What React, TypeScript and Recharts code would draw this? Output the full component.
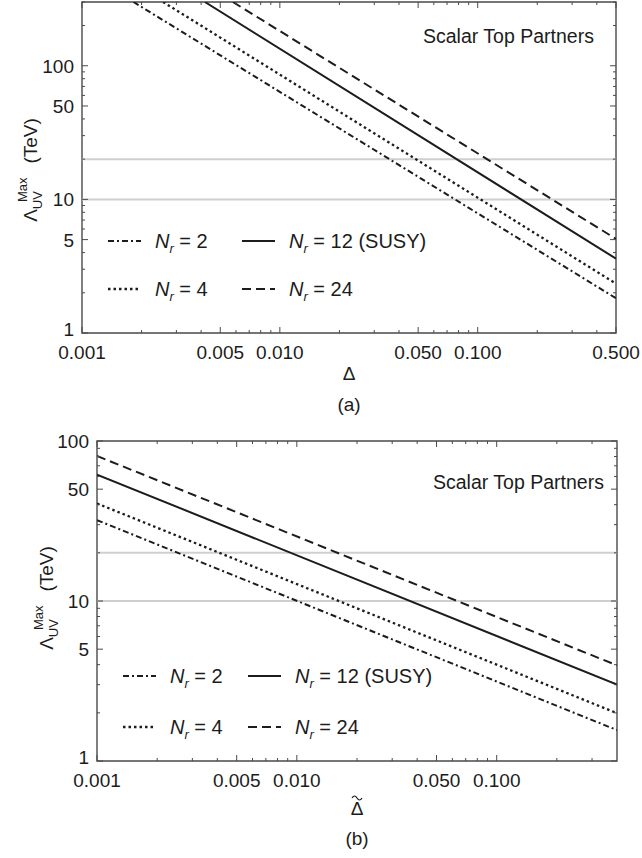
import React from "react";
import {
  LineChart, Line, XAxis, YAxis, ReferenceLine, ReferenceArea,
} from "recharts";

// panel (a): Lambda_UV^Max vs Delta, lines enter at the top edge (300 TeV)
const deltaA_n2 = [0.00182, 0.5];
const lamA_n2 = [300, 1.82];
const deltaA_n4 = [0.00257, 0.5];
const lamA_n4 = [300, 2.34];
const deltaA_n12 = [0.00418, 0.5];
const lamA_n12 = [300, 3.6];
const deltaA_n24 = [0.00579, 0.5];
const lamA_n24 = [300, 5.06];

// panel (b): Lambda_UV^Max vs Delta-tilde
const deltaB = [0.001, 0.4];
const lamB_n2 = [32.0, 1.56];
const lamB_n4 = [40.7, 1.99];
const lamB_n12 = [61.7, 3.0];
const lamB_n24 = [80.6, 3.96];

// ticks
const xMajorA = [0.001, 0.005, 0.01, 0.05, 0.1, 0.5];
const xLabelsA = ["0.001", "0.005", "0.010", "0.050", "0.100", "0.500"];
const xMajorB = [0.001, 0.005, 0.01, 0.05, 0.1];
const xLabelsB = ["0.001", "0.005", "0.010", "0.050", "0.100"];
const xMinor = [0.002, 0.003, 0.004, 0.006, 0.007, 0.008, 0.009,
  0.02, 0.03, 0.04, 0.06, 0.07, 0.08, 0.09, 0.2, 0.3, 0.4];
const yMajor = [1, 5, 10, 50, 100];
const yLabels = ["1", "5", "10", "50", "100"];
const yMinor = [2, 3, 4, 6, 7, 8, 9, 20, 30, 40, 60, 70, 80, 90, 200, 300];
const gridValues = [10, 20];

const DASH_N2 = "6 3 2 3";
const DASH_N4 = "2.5 3";
const DASH_N24 = "9 5";

const legendItems = [
  { label: "2", dash: DASH_N2, col: 0, row: 0 },
  { label: "12 (SUSY)", dash: "", col: 1, row: 0 },
  { label: "4", dash: DASH_N4, col: 0, row: 1 },
  { label: "24", dash: DASH_N24, col: 1, row: 1 },
];

const FONT = "'Liberation Sans', Arial, Helvetica, sans-serif";
const INK = "#1c1c1c";
const FRAME = "#4a4a4a";

const pts = (xs: number[], ys: number[]) => xs.map((x, i) => ({ x, y: ys[i] }));

function XTick(props: any) {
  const { x, y, payload, plotH, majors, labels } = props;
  const i = majors.indexOf(payload.value);
  const len = i >= 0 ? 6 : 3;
  return (
    <g>
      <line x1={x} x2={x} y1={y} y2={y - len} stroke={FRAME} strokeWidth={1} />
      <line x1={x} x2={x} y1={y - plotH} y2={y - plotH + len} stroke={FRAME} strokeWidth={1} />
      {i >= 0 && (
        <text x={x} y={y + 26} textAnchor="middle" fontSize={19} fontFamily={FONT} fill={INK}>
          {labels[i]}
        </text>
      )}
    </g>
  );
}

function YTick(props: any) {
  const { x, y, payload, plotW } = props;
  const i = yMajor.indexOf(payload.value);
  const len = i >= 0 ? 6 : 3;
  return (
    <g>
      <line x1={x} x2={x + len} y1={y} y2={y} stroke={FRAME} strokeWidth={1} />
      <line x1={x + plotW} x2={x + plotW - len} y1={y} y2={y} stroke={FRAME} strokeWidth={1} />
      {i >= 0 && (
        <text x={x - 8} y={i === 0 ? y + 3 : y + 7} textAnchor="end" fontSize={19} fontFamily={FONT} fill={INK}>
          {yLabels[i]}
        </text>
      )}
    </g>
  );
}

type Series = { data: { x: number; y: number }[]; dash: string };

function Panel(props: {
  top: number; left: number; right: number; plotTop: number; plotH: number;
  xMax: number; yMax: number; majors: number[]; labels: string[]; series: Series[];
}) {
  const { top, left, right, plotTop, plotH, xMax, yMax, majors, labels, series } = props;
  const W = 642;
  const H = 400;
  const plotW = W - left - right;
  const xTicks = [...majors, ...xMinor.filter((v) => v < xMax)];
  const yTicks = [...yMajor, ...yMinor.filter((v) => v <= yMax)];
  return (
    <div style={{ position: "absolute", left: 0, top }}>
      <LineChart
        width={W}
        height={H}
        margin={{ top: plotTop, left: left - 60, right, bottom: H - plotTop - plotH - 30 }}
      >
        <XAxis
          dataKey="x"
          type="number"
          scale="log"
          domain={[0.001, xMax]}
          allowDataOverflow
          ticks={xTicks}
          interval={0}
          height={30}
          axisLine={false}
          tickLine={false}
          tickSize={0}
          tickMargin={0}
          tick={(p: any) => <XTick {...p} plotH={plotH} majors={majors} labels={labels} />}
        />
        <YAxis
          type="number"
          scale="log"
          domain={[1, yMax]}
          allowDataOverflow
          ticks={yTicks}
          interval={0}
          width={60}
          axisLine={false}
          tickLine={false}
          tickSize={0}
          tickMargin={0}
          tick={(p: any) => <YTick {...p} plotW={plotW} />}
        />
        {gridValues.map((g) => (
          <ReferenceLine key={g} y={g} stroke="#cfcfcf" strokeWidth={2} />
        ))}
        <ReferenceArea x1={0.001} x2={xMax} y1={1} y2={yMax} fill="none" stroke={FRAME} strokeWidth={1.4} />
        {series.map((s, k) => (
          <Line
            key={k}
            data={s.data}
            dataKey="y"
            type="linear"
            stroke={INK}
            strokeWidth={s.dash === DASH_N4 ? 2.3 : 2}
            strokeDasharray={s.dash || undefined}
            dot={false}
            activeDot={false}
            isAnimationActive={false}
          />
        ))}
      </LineChart>
    </div>
  );
}

function Legend(props: { x0: number; x1: number; y0: number; y1: number }) {
  const { x0, x1, y0, y1 } = props;
  return (
    <g>
      {legendItems.map((it) => {
        const sx = it.col === 0 ? x0 : x1;
        const sy = it.row === 0 ? y0 : y1;
        return (
          <g key={it.label}>
            <line x1={sx} x2={sx + 33} y1={sy} y2={sy} stroke={INK}
              strokeWidth={it.dash === DASH_N4 ? 2.3 : 2}
              strokeDasharray={it.dash || undefined} />
            <text x={sx + 47} y={sy + 7} fontSize={20} fontFamily={FONT} fill={INK}>
              <tspan fontStyle="italic">N</tspan>
              <tspan fontStyle="italic" fontSize={13} dy={5}>r</tspan>
              <tspan dy={-5}>{" = " + it.label}</tspan>
            </text>
          </g>
        );
      })}
    </g>
  );
}

function YTitle(props: { x: number; y: number }) {
  return (
    <text transform={`translate(${props.x},${props.y}) rotate(-90)`} textAnchor="middle"
      fontSize={19} fontFamily={FONT} fill={INK}>
      <tspan>Λ</tspan>
      <tspan fontSize={13} dy={5}>UV</tspan>
      <tspan fontSize={13} dx={-11} dy={-15}>Max</tspan>
      <tspan dy={10} dx={14}>(TeV)</tspan>
    </text>
  );
}

function DeltaTilde(props: { x: number; y: number }) {
  const { x, y } = props;
  return (
    <g>
      <text x={x} y={y} textAnchor="middle" fontSize={19} fontFamily={FONT} fill={INK}>Δ</text>
      <path d={`M${x - 5},${y - 17} Q${x - 2.5},${y - 21} ${x},${y - 17} T${x + 5},${y - 17}`}
        fill="none" stroke={INK} strokeWidth={1.2} />
    </g>
  );
}

export default function App() {
  const seriesA: Series[] = [
    { data: pts(deltaA_n2, lamA_n2), dash: DASH_N2 },
    { data: pts(deltaA_n4, lamA_n4), dash: DASH_N4 },
    { data: pts(deltaA_n12, lamA_n12), dash: "" },
    { data: pts(deltaA_n24, lamA_n24), dash: DASH_N24 },
  ];
  const seriesB: Series[] = [
    { data: pts(deltaB, lamB_n2), dash: DASH_N2 },
    { data: pts(deltaB, lamB_n4), dash: DASH_N4 },
    { data: pts(deltaB, lamB_n12), dash: "" },
    { data: pts(deltaB, lamB_n24), dash: DASH_N24 },
  ];
  return (
    <div style={{ position: "absolute", left: 0, top: 0, width: 642, height: 858, background: "#fff", overflow: "hidden" }}>
      <Panel top={0} left={82} right={26} plotTop={2} plotH={331} xMax={0.5} yMax={300}
        majors={xMajorA} labels={xLabelsA} series={seriesA} />
      <Panel top={430} left={97} right={25} plotTop={11} plotH={320} xMax={0.4} yMax={100}
        majors={xMajorB} labels={xLabelsB} series={seriesB} />
      <svg width={642} height={858} style={{ position: "absolute", left: 0, top: 0, pointerEvents: "none" }}>
        <text x={423} y={43} fontSize={19.5} fontFamily={FONT} fill={INK}>Scalar Top Partners</text>
        <text x={433} y={489} fontSize={19.5} fontFamily={FONT} fill={INK}>Scalar Top Partners</text>
        <Legend x0={108} x1={242} y0={241} y1={289} />
        <Legend x0={123} x1={248} y0={676} y1={727} />
        <YTitle x={37} y={170} />
        <YTitle x={53} y={598} />
        <text x={349} y={380} textAnchor="middle" fontSize={19} fontFamily={FONT} fill={INK}>Δ</text>
        <text x={349} y={411} textAnchor="middle" fontSize={19} fontFamily={FONT} fill={INK}>(a)</text>
        <DeltaTilde x={357} y={815} />
        <text x={357} y={845} textAnchor="middle" fontSize={19} fontFamily={FONT} fill={INK}>(b)</text>
      </svg>
    </div>
  );
}
